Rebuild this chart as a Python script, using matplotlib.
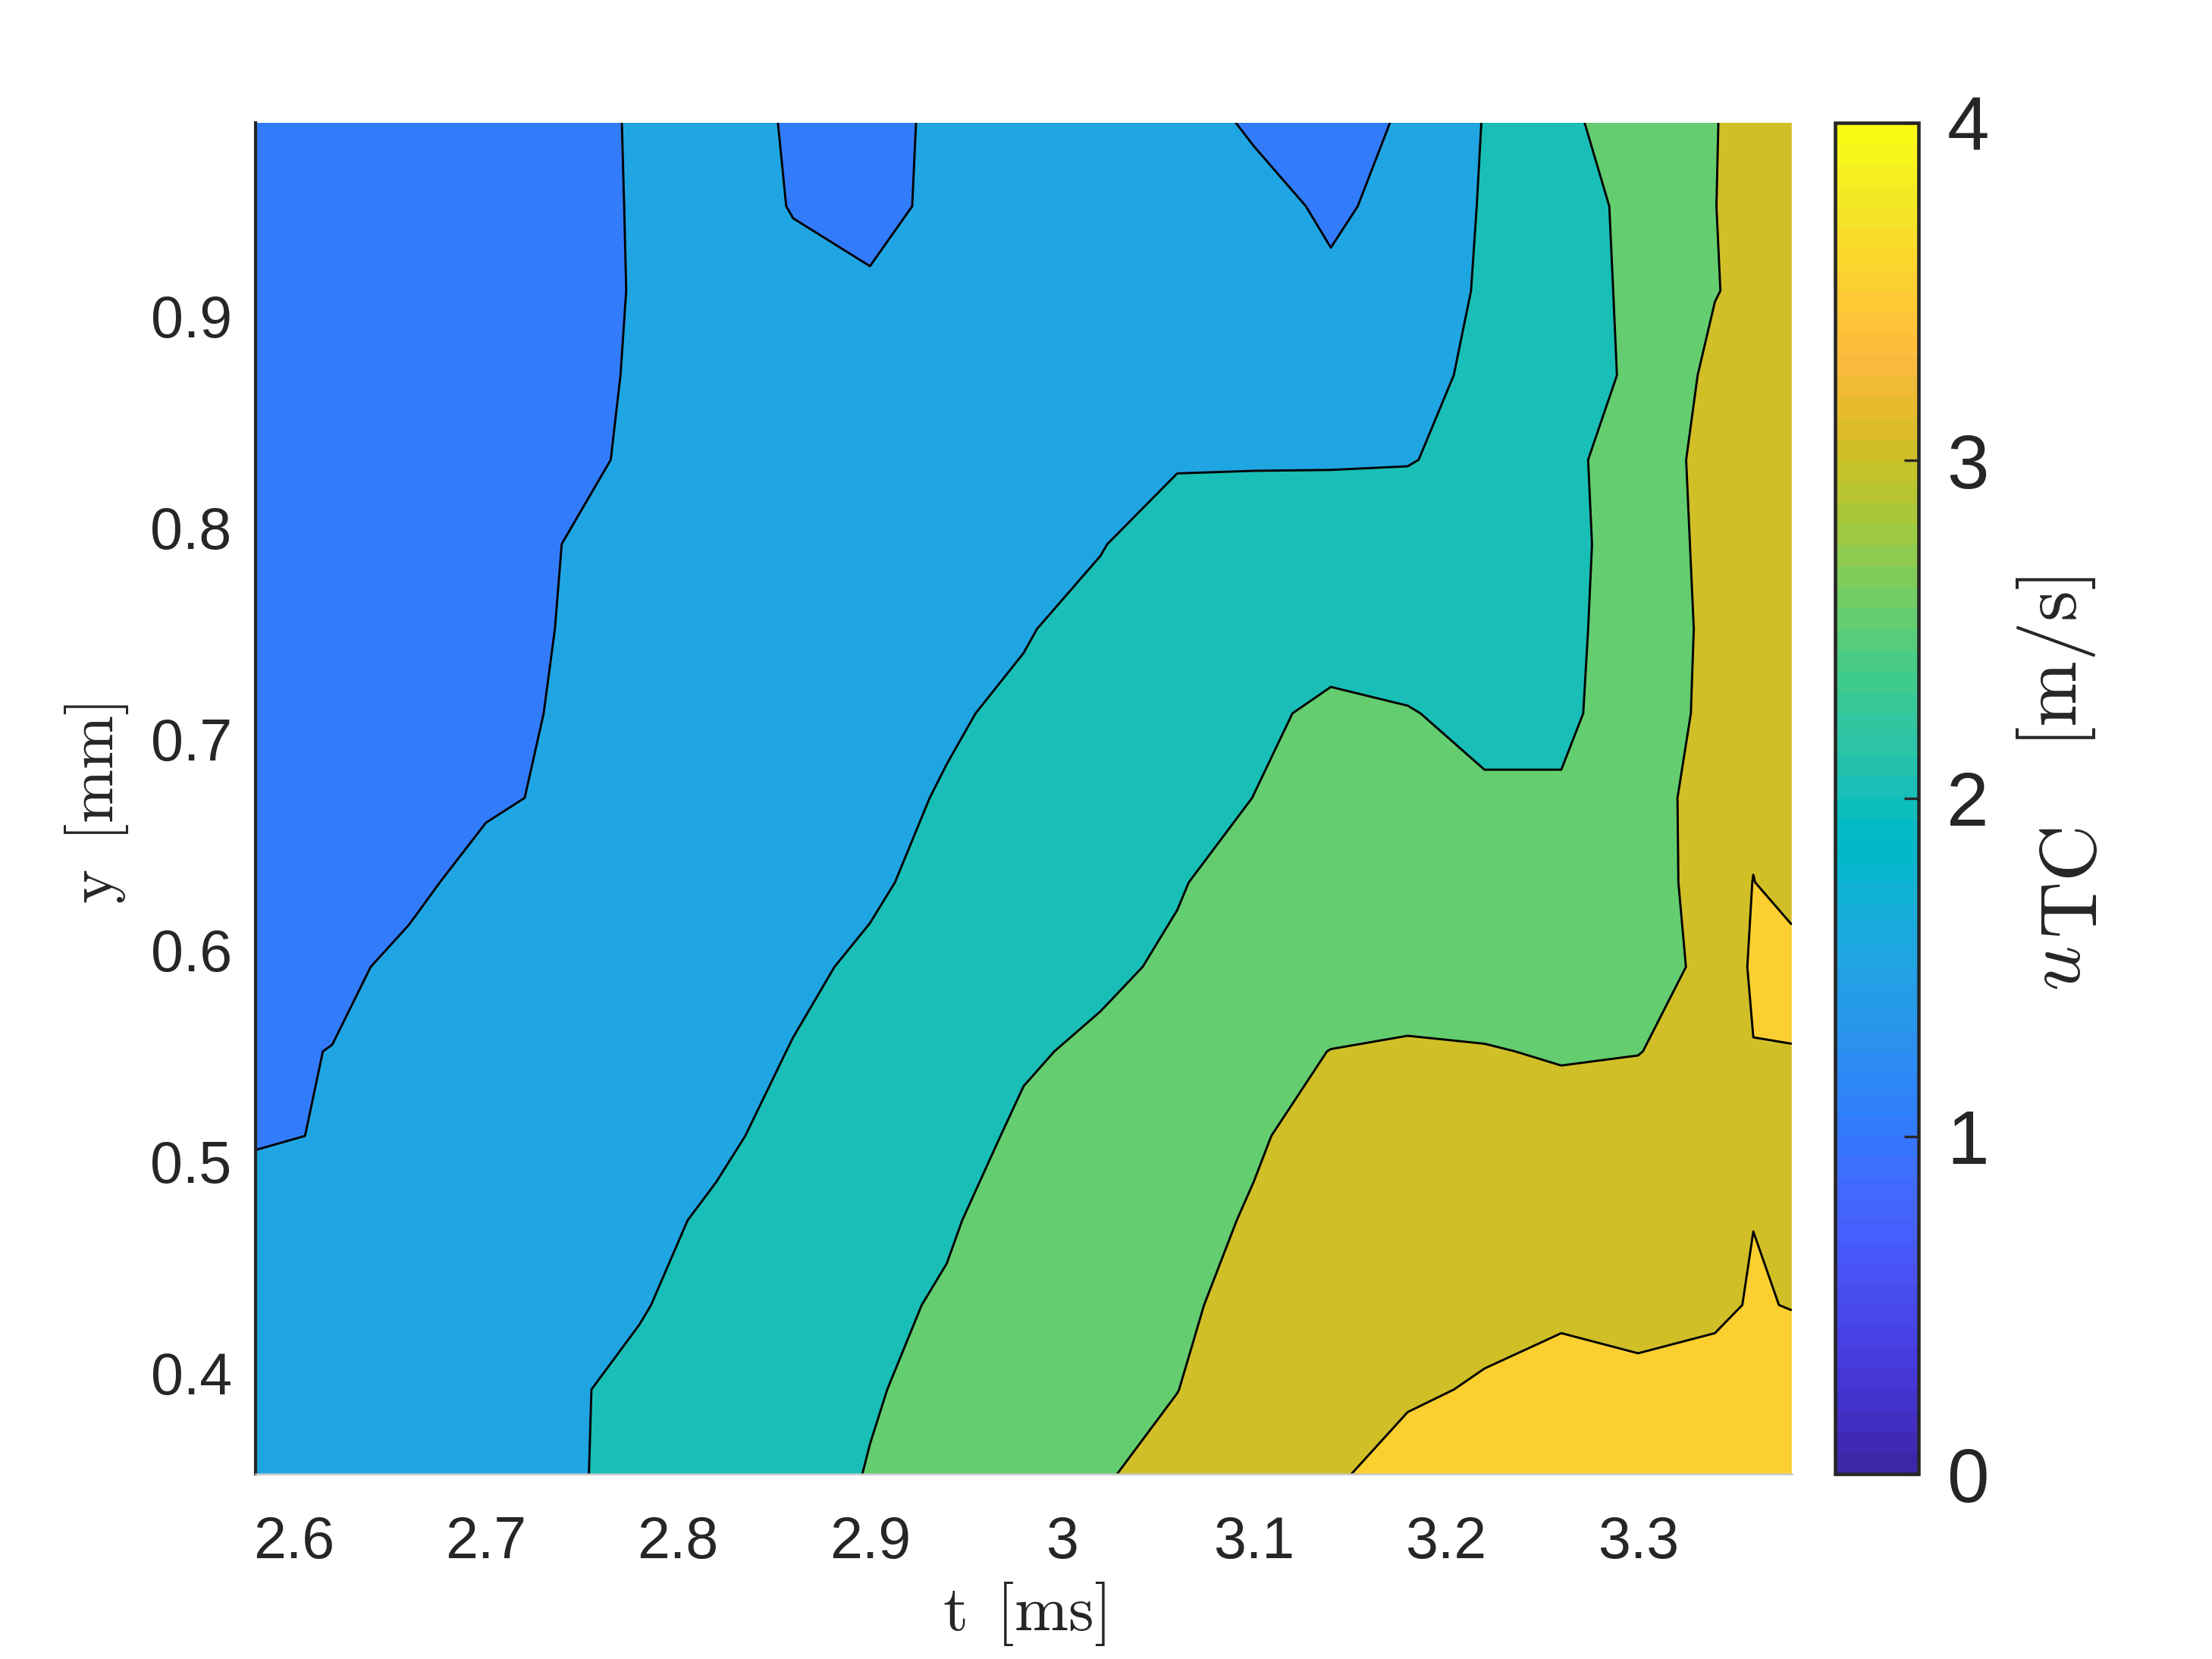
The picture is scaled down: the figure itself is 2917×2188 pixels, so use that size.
import numpy as np
import matplotlib
matplotlib.use("Agg")
import matplotlib.pyplot as plt
from matplotlib.colors import ListedColormap, Normalize
from matplotlib.cm import ScalarMappable

# ---------------- data ----------------
t_ms = [2.58, 2.62, 2.66, 2.70, 2.74, 2.78, 2.82, 2.86, 2.90, 2.94, 2.98,
        3.02, 3.06, 3.10, 3.14, 3.18, 3.22, 3.26, 3.30, 3.34, 3.36, 3.38]
y_mm = [0.352, 0.392, 0.432, 0.472, 0.512, 0.552, 0.592, 0.632, 0.672,
        0.712, 0.752, 0.792, 0.832, 0.872, 0.912, 0.952, 0.992]

u_y0352 = [1.78, 1.82, 1.87, 1.92, 1.97, 2.058, 2.25, 2.4, 2.511, 2.7, 2.85, 2.97, 3.108, 3.25, 3.45, 3.637, 3.62, 3.65, 3.62, 3.65, 3.67, 3.7]
u_y0392 = [1.75, 1.8, 1.85, 1.9, 1.96, 2.067, 2.25, 2.4, 2.48, 2.569, 2.75, 2.9, 2.995, 3.2, 3.4, 3.45, 3.533, 3.6, 3.53, 3.6, 3.62, 3.65]
u_y0432 = [1.7, 1.75, 1.8, 1.86, 1.92, 1.98, 2.113, 2.3, 2.44, 2.529, 2.7, 2.85, 2.95, 3.093, 3.25, 3.35, 3.4, 3.45, 3.46, 3.45, 3.52, 3.49]
u_y0472 = [1.6, 1.65, 1.72, 1.8, 1.86, 1.93, 2.042, 2.2, 2.35, 2.47, 2.62, 2.75, 2.88, 3.035, 3.15, 3.22, 3.28, 3.3, 3.32, 3.38, 3.497, 3.45]
u_y0512 = [1.48, 1.511, 1.62, 1.7, 1.78, 1.86, 1.95, 2.083, 2.25, 2.4, 2.543, 2.7, 2.82, 2.96, 3.138, 3.18, 3.2, 3.15, 3.2, 3.3, 3.35, 3.4]
u_y0552 = [1.45, 1.507, 1.62, 1.7, 1.77, 1.84, 1.9, 2.01, 2.15, 2.3, 2.47, 2.545, 2.7, 2.85, 3.008, 3.05, 3.02, 2.97, 2.99, 3.15, 3.49, 3.48]
u_y0592 = [1.3, 1.42, 1.58, 1.7, 1.78, 1.85, 1.92, 1.95, 2.043, 2.15, 2.3, 2.45, 2.541, 2.65, 2.72, 2.78, 2.8, 2.85, 2.62, 3.23, 3.55, 3.7]
u_y0632 = [1.2, 1.3, 1.42, 1.62, 1.7, 1.78, 1.85, 1.92, 1.96, 2.083, 2.22, 2.35, 2.48, 2.613, 2.68, 2.7, 2.7, 2.72, 2.85, 3.136, 3.51, 3.3]
u_y0672 = [1.15, 1.22, 1.32, 1.45, 1.549, 1.68, 1.78, 1.86, 1.93, 2.02, 2.15, 2.28, 2.3, 2.505, 2.58, 2.6, 2.55, 2.55, 2.7, 3.285, 3.4, 3.35]
u_y0712 = [1.15, 1.2, 1.28, 1.4, 1.533, 1.65, 1.75, 1.83, 1.9, 1.97, 2.05, 2.2, 2.35, 2.4, 2.6, 2.52, 2.4, 2.4, 2.75, 3.114, 3.25, 3.3]
u_y0752 = [1.15, 1.2, 1.25, 1.35, 1.517, 1.6, 1.7, 1.78, 1.86, 1.93, 1.98, 2.094, 2.2, 2.25, 2.28, 2.3, 2.32, 2.4, 2.686, 3.119, 3.25, 3.3]
u_y0792 = [1.15, 1.2, 1.25, 1.35, 1.502, 1.6, 1.68, 1.75, 1.82, 1.88, 1.94, 1.985, 2.156, 2.2, 2.22, 2.24, 2.3, 2.42, 2.62, 3.183, 3.25, 3.3]
u_y0832 = [1.15, 1.2, 1.25, 1.3, 1.42, 1.548, 1.63, 1.68, 1.72, 1.76, 1.8, 1.85, 1.97, 1.97, 1.97, 1.98, 2.12, 2.42, 2.649, 3.21, 3.27, 3.3]
u_y0872 = [1.15, 1.2, 1.25, 1.3, 1.4, 1.533, 1.62, 1.65, 1.67, 1.7, 1.72, 1.74, 1.76, 1.75, 1.76, 1.775, 2.15, 2.4, 2.538, 3.134, 3.25, 3.3]
u_y0912 = [1.15, 1.2, 1.25, 1.3, 1.4, 1.521, 1.6, 1.56, 1.55, 1.62, 1.66, 1.68, 1.68, 1.65, 1.54, 1.623, 2.08, 2.4, 2.548, 2.98, 3.12, 3.247]
u_y0952 = [1.15, 1.2, 1.25, 1.3, 1.4, 1.525, 1.6, 1.49, 1.378, 1.6, 1.65, 1.65, 1.62, 1.58, 1.4615, 1.5715, 2.048, 2.4, 2.56, 2.995, 3.12, 3.25]
u_y0992 = [1.15, 1.2, 1.25, 1.3, 1.4, 1.53, 1.6, 1.475, 1.35, 1.6, 1.65, 1.65, 1.6, 1.467, 1.431, 1.52, 2.02, 2.45, 2.617, 2.99, 3.1, 3.2]

levels = [0.0, 0.5, 1.0, 1.5, 2.0, 2.5, 3.0, 3.5, 4.0]
xticks = [2.6, 2.7, 2.8, 2.9, 3.0, 3.1, 3.2, 3.3]
xtick_labels = ["2.6", "2.7", "2.8", "2.9", "3", "3.1", "3.2", "3.3"]
yticks = [0.4, 0.5, 0.6, 0.7, 0.8, 0.9]
ytick_labels = ["0.4", "0.5", "0.6", "0.7", "0.8", "0.9"]
cbar_ticks = [0, 1, 2, 3, 4]

# MATLAB parula(64)
PARULA = [
    [0.2422, 0.1504, 0.6603], [0.2504, 0.1650, 0.7076], [0.2578, 0.1818, 0.7511], [0.2647, 0.1978, 0.7952],
    [0.2706, 0.2147, 0.8364], [0.2751, 0.2342, 0.8710], [0.2783, 0.2559, 0.8991], [0.2803, 0.2782, 0.9221],
    [0.2813, 0.3006, 0.9414], [0.2810, 0.3228, 0.9579], [0.2795, 0.3447, 0.9717], [0.2760, 0.3667, 0.9829],
    [0.2699, 0.3892, 0.9906], [0.2602, 0.4123, 0.9952], [0.2440, 0.4358, 0.9988], [0.2206, 0.4603, 0.9973],
    [0.1963, 0.4847, 0.9892], [0.1834, 0.5074, 0.9798], [0.1786, 0.5289, 0.9682], [0.1764, 0.5499, 0.9520],
    [0.1687, 0.5703, 0.9359], [0.1540, 0.5902, 0.9218], [0.1460, 0.6091, 0.9079], [0.1380, 0.6276, 0.8973],
    [0.1248, 0.6459, 0.8883], [0.1113, 0.6635, 0.8763], [0.0952, 0.6798, 0.8598], [0.0689, 0.6948, 0.8394],
    [0.0297, 0.7082, 0.8163], [0.0036, 0.7203, 0.7917], [0.0067, 0.7312, 0.7660], [0.0433, 0.7411, 0.7394],
    [0.0964, 0.7500, 0.7120], [0.1408, 0.7584, 0.6842], [0.1717, 0.7670, 0.6554], [0.1938, 0.7758, 0.6251],
    [0.2161, 0.7843, 0.5923], [0.2470, 0.7918, 0.5567], [0.2906, 0.7973, 0.5188], [0.3406, 0.8008, 0.4789],
    [0.3909, 0.8029, 0.4354], [0.4456, 0.8024, 0.3909], [0.5044, 0.7993, 0.3480], [0.5616, 0.7942, 0.3045],
    [0.6174, 0.7876, 0.2612], [0.6720, 0.7793, 0.2227], [0.7242, 0.7698, 0.1910], [0.7738, 0.7598, 0.1646],
    [0.8203, 0.7498, 0.1535], [0.8634, 0.7406, 0.1596], [0.9035, 0.7330, 0.1774], [0.9393, 0.7288, 0.2100],
    [0.9728, 0.7298, 0.2394], [0.9956, 0.7434, 0.2371], [0.9970, 0.7659, 0.2199], [0.9952, 0.7893, 0.2028],
    [0.9892, 0.8136, 0.1885], [0.9786, 0.8386, 0.1766], [0.9676, 0.8639, 0.1643], [0.9610, 0.8890, 0.1537],
    [0.9597, 0.9135, 0.1423], [0.9628, 0.9373, 0.1265], [0.9691, 0.9606, 0.1064], [0.9769, 0.9839, 0.0805],
]

# ---------------- style ----------------
plt.rcParams["font.family"] = ["Liberation Sans", "DejaVu Sans"]
plt.rcParams["mathtext.fontset"] = "cm"
TXT = "#262626"

fig = plt.figure(figsize=(2917 / 300, 2188 / 300), dpi=300)
ax = fig.add_axes([0.1155, 0.1115, 0.6945, 0.8145])

cmap = ListedColormap(PARULA, name="parula")
norm = Normalize(vmin=0, vmax=4)
fill_colors = [cmap(norm(lv)) for lv in levels[:-1]]

U = np.array([u_y0352, u_y0392, u_y0432, u_y0472, u_y0512, u_y0552, u_y0592,
              u_y0632, u_y0672, u_y0712, u_y0752, u_y0792, u_y0832, u_y0872,
              u_y0912, u_y0952, u_y0992])
T, Y = np.meshgrid(t_ms, y_mm)

ax.contourf(T, Y, U, levels=levels, colors=fill_colors, antialiased=True)
ax.contour(T, Y, U, levels=levels, colors="k", linewidths=0.7)

ax.set_xlim(t_ms[0], t_ms[-1])
ax.set_ylim(y_mm[0], 0.9915)
ax.set_xticks(xticks)
ax.set_xticklabels(xtick_labels)
ax.set_yticks(yticks)
ax.set_yticklabels(ytick_labels)
ax.tick_params(axis="x", length=0, pad=13, labelsize=18.5, labelcolor=TXT)
ax.tick_params(axis="y", length=0, pad=7.5, labelsize=18.5, labelcolor=TXT)
for s in ["top", "right"]:
    ax.spines[s].set_visible(False)
ax.spines["left"].set_color(TXT)
ax.spines["left"].set_linewidth(1.0)
ax.spines["bottom"].set_color("#c8c8c8")
ax.spines["bottom"].set_linewidth(0.6)

fig.text(0.4628, 0.027, r"$\mathrm{t}\ \,[\mathrm{ms}]$", fontsize=20.5,
         ha="center", va="center", color=TXT)
fig.text(0.0438, 0.5155, r"$\mathrm{y}\ \,[\mathrm{mm}]$", fontsize=20.5,
         ha="center", va="center", rotation=90, color=TXT)

# colorbar
cax = fig.add_axes([0.8296, 0.1115, 0.0377, 0.8145])
cb = fig.colorbar(ScalarMappable(norm=norm, cmap=cmap), cax=cax, ticks=cbar_ticks)
cb.outline.set_edgecolor(TXT)
cb.outline.set_linewidth(1.1)
cax.tick_params(direction="in", length=4.5, width=0.8, color=TXT,
                labelsize=24, pad=9, labelcolor=TXT)
cax.set_yticklabels([str(v) for v in cbar_ticks])

# colorbar label: u, full-size lowered "TC", then unit
fig.text(0.9314, 0.4163, r"$u$", fontsize=25, ha="center", va="center",
         rotation=90, color=TXT)
fig.text(0.9386, 0.4675, r"$\mathrm{TC}$", fontsize=25, ha="center", va="center",
         rotation=90, color=TXT)
fig.text(0.9297, 0.6010, r"$[\mathrm{m/s}]$", fontsize=25, ha="center", va="center",
         rotation=90, color=TXT)

fig.savefig("out.png", dpi=300, facecolor="white")
